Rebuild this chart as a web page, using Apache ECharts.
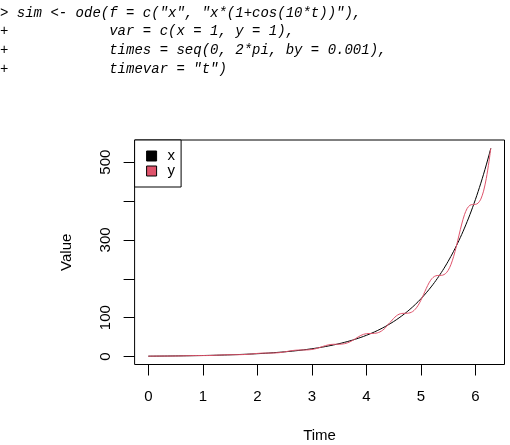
<!DOCTYPE html>
<html>
<head>
<meta charset="utf-8">
<script src="https://cdn.jsdelivr.net/npm/echarts@6/dist/echarts.min.js"></script>
<style>
html,body{margin:0;padding:0;background:#fff;}
#chart{width:510px;height:445px;}
</style>
</head>
<body>
<div id="chart"></div>
<script>
// Time points
const times = [0,0.1,0.2,0.3,0.4,0.5,0.6,0.7,0.8,0.9,1.0,1.1,1.2,1.3,1.4,1.5,1.6,1.7,1.8,1.9,
  2.0,2.1,2.2,2.3,2.4,2.5,2.6,2.7,2.8,2.9,
  3.0,3.05,3.1,3.15,3.2,3.25,3.3,3.35,3.4,3.45,3.5,3.55,3.6,3.65,3.7,3.75,3.8,3.85,3.9,3.95,
  4.0,4.05,4.1,4.15,4.2,4.25,4.3,4.35,4.4,4.45,4.5,4.55,4.6,4.65,4.7,4.75,4.8,4.85,4.9,4.95,
  5.0,5.05,5.1,5.15,5.2,5.25,5.3,5.35,5.4,5.45,5.5,5.55,5.6,5.65,5.7,5.75,5.8,5.85,5.9,5.95,
  6.0,6.05,6.1,6.15,6.2,6.25,6.2832];
// Series x
const xValues = [1,1.105,1.221,1.350,1.492,1.649,1.822,2.014,2.226,2.460,2.718,3.004,3.320,3.669,4.055,4.482,4.953,5.474,6.050,6.686,
  7.389,8.166,9.025,9.974,11.023,12.183,13.464,14.880,16.445,18.174,
  20.086,21.115,22.198,23.336,24.533,25.790,27.113,28.503,29.964,31.500,33.116,34.813,36.598,38.475,40.447,42.521,44.701,46.993,49.402,51.935,
  54.598,57.398,60.340,63.434,66.686,70.105,73.700,77.479,81.451,85.627,90.017,94.632,99.484,104.585,109.947,115.584,121.510,127.740,134.290,141.175,
  148.413,156.022,164.022,172.432,181.272,190.566,200.337,210.608,221.406,232.758,244.692,257.238,270.426,284.291,298.867,314.190,330.300,347.235,365.037,383.753,
  403.429,424.113,445.858,468.718,492.749,518.013,535.49];
// Series y
const yValues = [1,1.202,1.338,1.369,1.383,1.498,1.772,2.151,2.457,2.563,2.574,2.718,3.147,3.827,4.478,4.783,4.813,4.972,5.612,6.787,
  8.095,8.879,9.017,9.165,10.069,12.022,14.531,16.373,16.896,17.007,
  18.196,19.505,21.319,23.533,25.923,28.174,29.964,31.097,31.592,31.682,31.727,32.108,33.143,35.051,37.927,41.688,46.046,50.491,54.402,57.247,
  58.822,59.348,59.391,59.665,60.846,63.458,67.817,73.968,82.906,89.972,98.012,104.570,108.873,110.877,111.315,111.416,112.524,115.805,122.072,131.723,
  144.569,159.690,175.392,189.503,200.068,206.185,208.426,208.662,209.373,212.974,221.412,235.880,256.683,282.909,312.193,340.846,364.780,381.018,389.035,391.079,
  391.318,394.497,404.800,425.319,457.640,501.411,535.49];
// Tick values
const xTicks = [0,1,2,3,4,5,6];
const yTicks = [0,100,200,300,400,500];
const yLabels = [0,100,300,500];
const seriesNames = ['x','y'];
const codeLines = [
  '> sim <- ode(f = c("x", "x*(1+cos(10*t))"),',
  '+            var = c(x = 1, y = 1),',
  '+            times = seq(0, 2*pi, by = 0.001),',
  '+            timevar = "t")'
];

const chart = echarts.init(document.getElementById('chart'), null, {renderer:'canvas'});
const font = '"Liberation Sans", Arial, sans-serif';
const xmin = -0.2513, xmax = 6.5345, ymin = -20.38, ymax = 556.87;

const option = {
  animation:false,
  backgroundColor:'#fff',
  grid:{left:134.6, top:140, width:369.9, height:224.5, show:true, borderColor:'#000', borderWidth:1,
    backgroundColor:'transparent', containLabel:false, outerBoundsMode:'none'},
  xAxis:{type:'value', min:xmin, max:xmax,
    name:'Time', nameLocation:'middle', nameGap:71,
    nameTextStyle:{fontFamily:font, fontSize:15, color:'#000', verticalAlign:'middle'},
    axisLine:{show:false, onZero:false}, splitLine:{show:false},
    axisTick:{show:true, length:11, lineStyle:{color:'#000', width:1}, customValues:xTicks},
    axisLabel:{fontFamily:font, fontSize:15, color:'#000', margin:25, customValues:xTicks}
  },
  yAxis:{type:'value', min:ymin, max:ymax,
    name:'Value', nameLocation:'middle', nameGap:67.5, nameRotate:90,
    nameTextStyle:{fontFamily:font, fontSize:15, color:'#000', verticalAlign:'middle'},
    axisLine:{show:false, onZero:false}, splitLine:{show:false},
    axisTick:{show:true, length:11, lineStyle:{color:'#000', width:1}, customValues:yTicks},
    axisLabel:{fontFamily:font, fontSize:15, color:'#000', margin:21, rotate:90, customValues:yLabels}
  },
  legend:{left:134.6, top:140, orient:'vertical', itemWidth:10, itemHeight:10, itemGap:0,
    padding:[8.5,6,8.5,11.5], borderColor:'#000', borderWidth:1, backgroundColor:'#fff',
    icon:'rect', itemStyle:{borderColor:'#000', borderWidth:1},
    textStyle:{fontFamily:font, fontSize:15, color:'#000', lineHeight:15, padding:[0,0,0,6]},
    data:seriesNames},
  series:[
    {name:seriesNames[0], type:'line', data:times.map((t,i)=>[t,xValues[i]]), showSymbol:false, smooth:0.3,
     lineStyle:{color:'#000', width:1}, itemStyle:{color:'#000'}, z:2},
    {name:seriesNames[1], type:'line', data:times.map((t,i)=>[t,yValues[i]]), showSymbol:false, smooth:0.3,
     lineStyle:{color:'#DF536B', width:1}, itemStyle:{color:'#DF536B'}, z:3}
  ],
  graphic: codeLines.map((s,i)=>({type:'text', style:{text:s, x:0, y:13+i*18.6,
    font:'italic 14px "Liberation Mono", "Courier New", monospace', fill:'#000', verticalAlign:'middle'}}))
};
chart.setOption(option);
</script>
</body>
</html>
